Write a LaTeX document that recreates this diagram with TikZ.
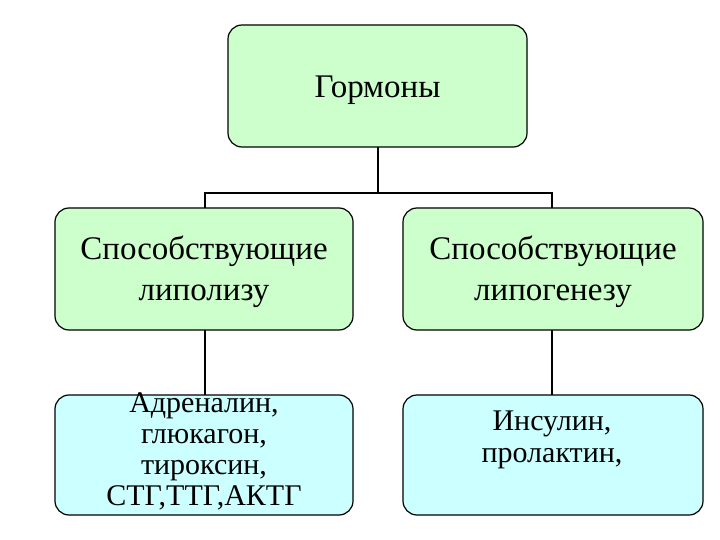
\documentclass[tikz,border=0pt]{standalone}
\usepackage{fontspec}
\setmainfont{Liberation Serif}
\begin{document}
\begin{tikzpicture}[x=1pt,y=-1pt,
 box/.style={draw=black,line width=1.2pt,rounded corners=14pt},
 gr/.style={box,fill={rgb,255:red,204;green,255;blue,204}},
 cy/.style={box,fill={rgb,255:red,204;green,255;blue,255}},
 txt/.style={align=center,font=\fontsize{33}{41}\selectfont,inner sep=0pt},
 ln/.style={line width=1.6pt}]
\useasboundingbox (0,0) rectangle (720,540);
\draw[gr] (228,25) rectangle (527,147);
\node[txt] (t) at (377.5,90) {Гормоны};
\draw[gr] (55,208) rectangle (353,330);
\node[txt] (l) at (204,272) {Способствующие\\липолизу};
\draw[gr] (403,208) rectangle (703,330);
\node[txt] (r) at (553,272) {Способствующие\\липогенезу};
\draw[cy] (55,395) rectangle (353,515);
\node[txt,font=\fontsize{30}{31}\selectfont,anchor=north] (bl) at (204,392) {Адреналин,\\глюкагон,\\тироксин,\\СТГ,ТТГ,АКТГ};
\draw[cy] (403,395) rectangle (703,515);
\node[txt,font=\fontsize{30}{32}\selectfont,anchor=north] (br) at (552,411) {Инсулин,\\пролактин,};
\coordinate (a) at (378,147); \coordinate (b) at (378,193);
\coordinate (c) at (205,193); \coordinate (d) at (552,193);
\coordinate (c2) at (205,208); \coordinate (d2) at (552,208);
\draw[ln] (a)--(b); \draw[ln] (c2)--(c)--(d)--(d2);
\coordinate (e) at (205,330); \coordinate (e2) at (205,395);
\coordinate (f) at (552,330); \coordinate (f2) at (552,395);
\draw[ln] (e)--(e2); \draw[ln] (f)--(f2);
\end{tikzpicture}
\end{document}
